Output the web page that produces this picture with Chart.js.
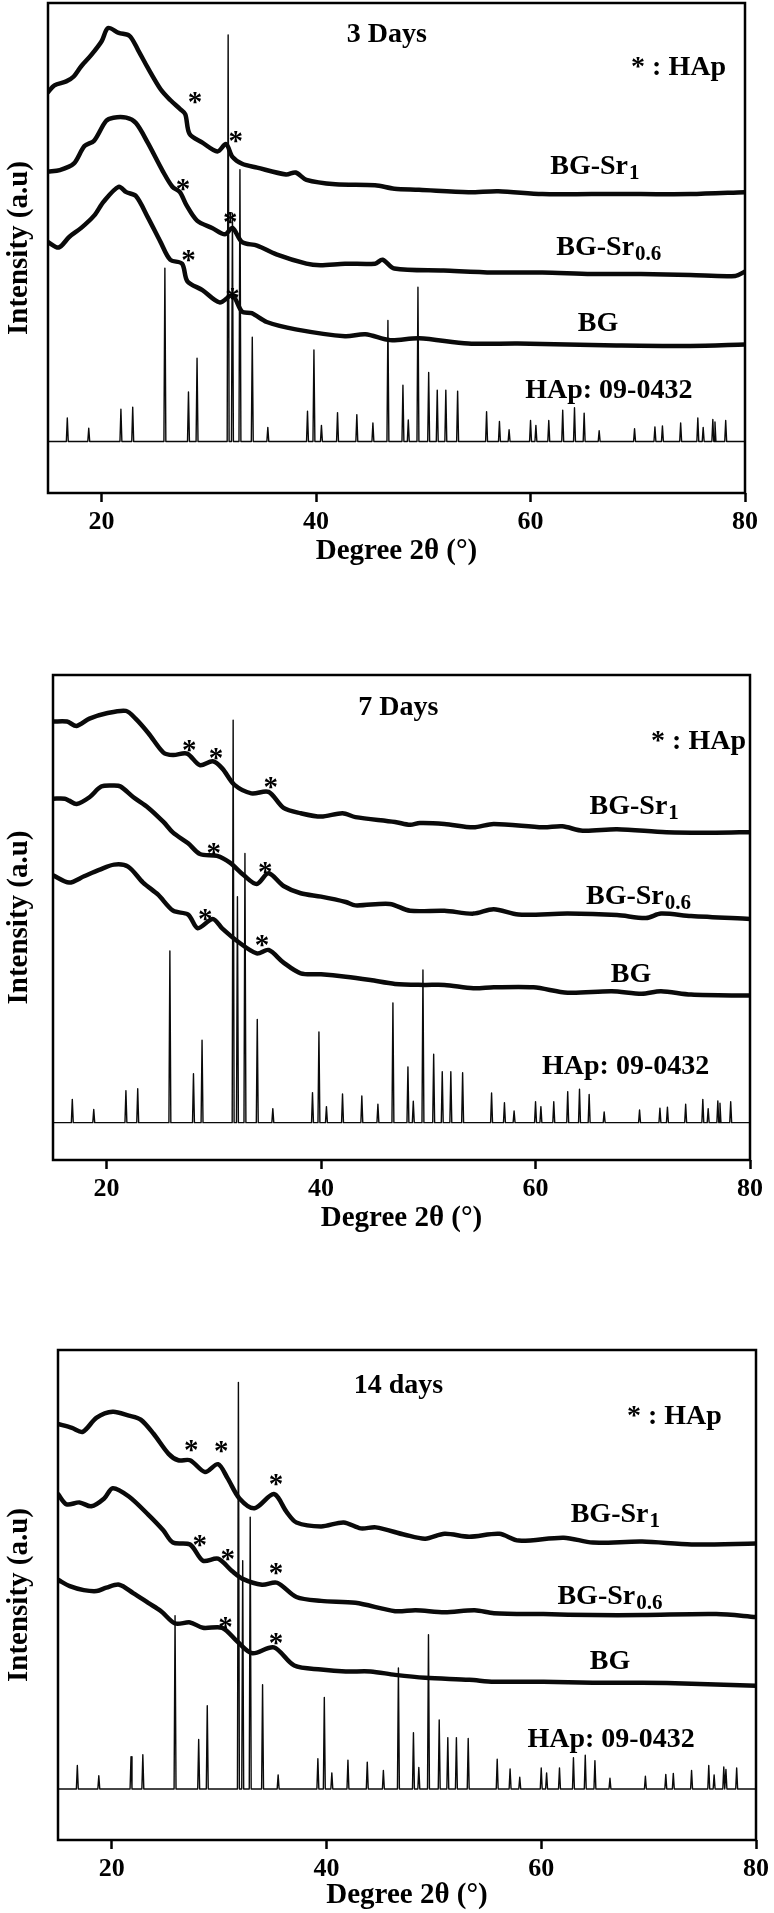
<!DOCTYPE html>
<html>
<head>
<meta charset="utf-8">
<title>XRD patterns after immersion</title>
<script src="https://cdn.jsdelivr.net/npm/chart.js@4.4.1/dist/chart.umd.min.js"></script>
<style>
  html, body { margin: 0; padding: 0; background: #fff; }
  #page { position: relative; width: 774px; height: 1913px; overflow: hidden; }
  #page canvas { position: absolute; left: 0; }
</style>
</head>
<body>
<div id="page">
  <canvas id="day3" width="774" height="569" style="top:0px"></canvas>
  <canvas id="day7" width="774" height="636" style="top:600px"></canvas>
  <canvas id="day14" width="774" height="663" style="top:1250px"></canvas>
</div>
<script>
// x axis ticks
const xTicks = [20, 40, 60, 80];

// sample labels (main text + subscript)
const labelMain = ['BG-Sr', 'BG-Sr', 'BG', 'HAp: 09-0432'];
const labelSub = ['1', '0.6', '', ''];

// HAp reference card 09-0432: peak positions (2θ) and heights above baseline
const hapPeaks = [16.8, 18.8, 21.8, 22.9, 25.9, 28.1, 28.9, 31.8, 32.2, 32.9, 34.05, 35.5,
  39.2, 39.8, 40.5, 42.0, 43.8, 45.3, 46.7, 48.1, 48.6, 49.5, 50.5, 51.3, 52.1, 53.2,
  55.9, 57.1, 58.0, 60.0, 60.5, 61.7, 63.0, 64.1, 65.0, 66.4, 69.7, 71.6, 72.3, 74.0,
  75.6, 76.1, 77.0, 77.2, 78.2];
const hapHeights = [4.8, 2.7, 6.6, 7.0, 35.4, 10.1, 17.0, 83.0, 46.6, 55.5, 21.3, 2.9,
  6.2, 18.7, 3.3, 5.9, 5.5, 3.8, 24.7, 11.5, 4.4, 31.5, 14.1, 10.5, 10.5, 10.3,
  6.1, 4.1, 2.4, 4.3, 3.3, 4.3, 6.4, 6.9, 5.8, 2.2, 2.6, 3.0, 3.2, 3.8,
  4.8, 2.9, 4.5, 4.0, 4.3];
const hapBaseline = [10.5, 7.7, 10.4];   // 3, 7, 14 days

// 3 days (intensity in % of the plot height)
const d3_sr1 = [[15,81.8],[15.6,83.2],[16.7,84.0],[17.4,85.0],[18.1,87.1],[19.0,89.3],[20.0,92.2],
  [20.6,94.9],[21.6,93.9],[22.6,93.3],[23.4,90.4],[24.3,86.8],[25.5,82.4],[26.4,80.2],[27.3,78.4],
  [27.8,77.3],[28.2,73.3],[29.4,71.5],[30.8,69.7],[31.6,71.2],[32.2,68.6],[33.1,67.2],[34.5,66.4],
  [37.2,65.0],[38.1,65.4],[39.1,63.9],[41.8,63.0],[45.5,62.8],[47.3,62.1],[49.6,61.9],[54.2,61.4],
  [57.0,61.6],[61.1,61.0],[65.7,61.0],[70.3,61.0],[74.9,61.0],[80,61.4]];
const d3_sr06 = [[15,65.6],[16.1,65.9],[17.4,67.2],[18.4,70.8],[19.3,71.9],[20.4,75.9],[21.1,76.6],
  [22.3,76.6],[23.2,75.5],[24.3,71.5],[25.7,65.7],[26.6,62.5],[27.3,61.4],[27.9,58.8],[28.9,55.6],
  [30.3,54.1],[31.5,52.8],[32.2,54.1],[33.1,51.2],[34.5,50.5],[36.3,48.7],[39.1,46.8],[40.4,46.5],
  [42.7,46.8],[45.5,46.8],[46.2,47.6],[47.3,45.8],[51.9,45.4],[56.5,45.0],[61.1,45.0],[65.7,44.7],
  [70.3,44.7],[74.9,44.5],[79.1,44.3],[80,45.2]];
const d3_bg = [[15,51.2],[16.0,50.1],[17.0,52.3],[18.1,54.1],[19.3,56.6],[20.2,59.5],[21.6,62.5],
  [22.3,61.4],[23.2,60.6],[24.3,56.3],[25.5,51.2],[26.4,47.6],[27.5,46.8],[28.0,43.2],[29.4,41.4],
  [31.0,38.9],[32.2,40.3],[33.1,37.0],[34.0,36.7],[35.4,34.9],[38.1,33.4],[42.7,32.0],[44.6,32.4],
  [46.9,31.2],[49.6,31.6],[54.2,30.5],[58.8,30.5],[63.4,30.3],[68.0,30.1],[74.9,30.0],[80,30.3]];
const d3_stars = [[28.7,81.0],[32.5,73.1],[27.6,63.2],[32.0,56.6],[28.1,48.7],[32.2,41.0]];

// 7 days
const d7_sr1 = [[15,90.4],[16.3,90.4],[17.2,89.5],[18.4,91.0],[20.0,92.1],[21.8,92.6],[22.7,91.0],
  [23.9,88.0],[25.3,84.0],[26.2,83.5],[27.5,83.8],[28.7,81.4],[29.9,82.2],[30.8,80.7],[31.9,77.4],
  [33.5,75.6],[35.1,75.9],[36.5,72.6],[38.1,71.5],[40.0,70.8],[42.0,71.5],[43.2,70.7],[46.9,69.7],
  [48.3,69.1],[49.2,69.5],[51.5,69.3],[54.2,68.6],[56.1,69.3],[60.7,68.6],[62.5,68.8],[64.4,67.9],
  [67.6,68.2],[72.2,67.6],[76.8,67.5],[80,67.6]];
const d7_sr06 = [[15,74.5],[16.1,74.5],[16.5,74.1],[17.2,73.4],[18.4,74.8],[19.5,77.0],[20.7,77.2],
  [21.3,77.0],[22.5,74.8],[23.9,72.6],[25.3,69.7],[26.2,67.5],[27.6,65.3],[28.7,63.1],[30.3,62.7],
  [31.5,61.3],[32.8,58.7],[34.0,56.9],[35.1,59.1],[36.5,56.5],[38.1,55.0],[40.0,54.3],[42.3,53.2],
  [43.2,52.5],[46.4,52.8],[48.3,51.4],[51.5,51.4],[54.2,50.8],[56.1,51.7],[58.4,50.6],[63.0,50.8],
  [67.6,50.5],[70.3,49.9],[71.7,50.8],[74.5,50.3],[80,49.7]];
const d7_bg = [[15,58.7],[16.5,57.2],[17.9,58.5],[19.3,59.8],[20.7,60.9],[22.0,60.5],[23.4,57.2],
  [24.8,54.7],[26.2,51.4],[27.6,50.6],[28.5,47.8],[29.9,49.7],[30.8,47.7],[32.2,45.1],[34.0,42.6],
  [35.1,43.3],[36.5,40.7],[38.1,38.5],[40.0,38.3],[42.3,37.8],[44.6,37.1],[46.9,36.3],[49.6,36.1],
  [51.5,36.1],[54.2,35.4],[56.1,35.6],[59.8,35.6],[63.0,34.5],[67.1,34.8],[69.9,34.3],[71.7,34.8],
  [74.5,34.1],[80,33.9]];
const d7_stars = [[27.7,85.8],[30.2,84.2],[35.3,78.1],[30.0,64.6],[34.8,60.7],[29.2,51.0],[34.5,45.5]];

// 14 days
const d14_sr1 = [[15,84.9],[16.3,84.1],[17.3,83.3],[18.6,86.2],[20.1,87.4],[21.6,86.6],[22.7,85.8],
  [23.9,82.9],[25.3,78.8],[26.2,77.5],[27.3,77.5],[28.7,75.1],[29.9,76.7],[30.8,73.8],[31.9,69.7],
  [33.3,67.7],[35.1,70.6],[36.3,66.9],[37.2,64.8],[39.5,64.0],[41.6,64.8],[43.2,63.6],[44.6,63.8],
  [47.3,62.3],[49.2,61.5],[51.0,62.5],[53.3,61.9],[56.1,62.5],[57.9,61.1],[62.1,61.7],[64.8,60.7],
  [69.4,60.9],[74.0,60.3],[80,60.5]];
const d14_sr06 = [[15,70.6],[15.8,68.5],[17.0,68.9],[18.1,68.1],[19.3,69.7],[20.1,71.8],[21.6,70.1],
  [23.4,66.4],[24.8,63.2],[25.7,60.7],[27.3,60.3],[28.5,57.0],[29.9,57.4],[31.2,54.9],[32.2,53.3],
  [34.0,52.1],[35.4,52.5],[37.2,49.6],[39.5,48.8],[42.7,48.4],[46.4,46.7],[48.3,46.9],[51.0,46.5],
  [53.8,46.9],[55.6,46.3],[60.2,46.1],[64.8,45.9],[69.4,45.9],[76.3,46.1],[80,45.5]];
const d14_bg = [[15,53.1],[16.1,51.8],[17.4,51.0],[18.6,50.8],[19.5,51.5],[20.7,52.1],[22.0,50.4],
  [23.4,48.4],[24.6,46.7],[25.9,44.2],[27.3,44.4],[28.5,43.3],[30.3,43.3],[31.7,40.5],[33.1,38.1],
  [35.1,39.3],[37.0,35.6],[39.5,34.8],[41.8,34.4],[44.1,34.4],[46.4,33.7],[49.2,33.1],[53.3,32.7],
  [55.6,32.3],[60.2,32.3],[64.8,32.1],[69.4,32.1],[74.0,31.9],[80,31.5]];
const d14_stars = [[27.4,80.8],[30.2,80.6],[35.3,73.8],[28.2,61.5],[30.8,58.6],[35.3,55.8],[30.6,44.7],[35.3,41.4]];

const FONT = 'Liberation Serif';
Chart.defaults.font.family = FONT;
Chart.defaults.font.weight = 'bold';
Chart.defaults.color = '#000';

function toXY(arr) {
  return arr.map(p => ({ x: p[0], y: p[1] }));
}

// stick pattern of the reference card drawn as one line
function hapLine(base) {
  const pts = [{ x: 15, y: base }];
  hapPeaks.forEach((p, i) => {
    pts.push({ x: p - 0.09, y: base });
    pts.push({ x: p, y: base + hapHeights[i] });
    pts.push({ x: p + 0.09, y: base });
  });
  pts.push({ x: 80, y: base });
  return pts;
}

// frame + texts drawn inside the plot
const panelText = {
  id: 'panelText',
  afterDatasetsDraw(chart, args, opts) {
    const { ctx, chartArea: a, scales: { x, y } } = chart;
    ctx.save();
    ctx.strokeStyle = '#000';
    ctx.lineWidth = 2.5;
    ctx.strokeRect(a.left, a.top, a.right - a.left, a.bottom - a.top);
    ctx.fillStyle = '#000';
    ctx.textBaseline = 'middle';

    const big = 'bold 28px ' + FONT;
    const small = 'bold 21px ' + FONT;

    ctx.textAlign = 'center';
    ctx.font = big;
    ctx.fillText(opts.title[0], x.getPixelForValue(opts.title[1]), y.getPixelForValue(opts.title[2]));
    ctx.fillText('* : HAp', x.getPixelForValue(opts.key[0]), y.getPixelForValue(opts.key[1]));

    // sample labels with subscripts
    opts.labels.forEach((pos, i) => {
      ctx.font = big;
      const w1 = ctx.measureText(labelMain[i]).width;
      ctx.font = small;
      const w2 = labelSub[i] ? ctx.measureText(labelSub[i]).width + 1 : 0;
      const cx = x.getPixelForValue(pos[0]);
      const cy = y.getPixelForValue(pos[1]);
      const left = cx - (w1 + w2) / 2;
      ctx.textAlign = 'left';
      ctx.font = big;
      ctx.fillText(labelMain[i], left, cy);
      if (labelSub[i]) {
        ctx.font = small;
        ctx.fillText(labelSub[i], left + w1 + 1, cy + 7);
      }
    });

    // HAp markers
    ctx.textAlign = 'center';
    ctx.textBaseline = 'alphabetic';
    ctx.font = 'bold 29px ' + FONT;
    opts.stars.forEach(s => {
      ctx.fillText('*', x.getPixelForValue(s[0]), y.getPixelForValue(s[1]) + 15);
    });
    ctx.restore();
  }
};

function makePanel(id, p) {
  const canvas = document.getElementById(id);
  const H = canvas.height;
  const axisH = H - p.bottom;
  new Chart(canvas, {
    type: 'line',
    data: {
      datasets: [
        { label: 'HAp: 09-0432', data: hapLine(p.base), borderWidth: 1.4, tension: 0 },
        { label: 'BG', data: toXY(p.bg), borderWidth: 4.5, tension: 0.3 },
        { label: 'BG-Sr0.6', data: toXY(p.sr06), borderWidth: 4.5, tension: 0.3 },
        { label: 'BG-Sr1', data: toXY(p.sr1), borderWidth: 4.5, tension: 0.3 }
      ]
    },
    options: {
      responsive: false,
      animation: false,
      events: [],
      elements: {
        line: { borderColor: '#0a0a0a', borderJoinStyle: 'round', borderCapStyle: 'round' },
        point: { radius: 0 }
      },
      layout: { padding: { left: 0, top: p.top, right: 774 - p.right, bottom: 0 } },
      scales: {
        x: {
          type: 'linear',
          min: 15,
          max: 80,
          afterFit(scale) { scale.height = axisH; },
          afterBuildTicks(scale) { scale.ticks = xTicks.map(v => ({ value: v })); },
          border: { display: false },
          grid: { drawOnChartArea: false, drawTicks: true, tickLength: 9, tickWidth: 2.5, tickColor: '#000' },
          ticks: { font: { size: 26, weight: 'bold' }, color: '#000', padding: 5, maxRotation: 0 },
          title: {
            display: true,
            text: 'Degree 2θ (°)',
            font: { size: 29, weight: 'bold' },
            color: '#000',
            padding: { top: 0, bottom: 0 }
          }
        },
        y: {
          min: 0,
          max: 100,
          afterFit(scale) { scale.width = p.left; },
          border: { display: false },
          grid: { display: false },
          ticks: { display: false },
          title: {
            display: true,
            text: 'Intensity (a.u)',
            font: { size: 29, weight: 'bold' },
            color: '#000',
            padding: { top: 2, bottom: 0 }
          }
        }
      },
      plugins: {
        legend: { display: false },
        tooltip: { enabled: false },
        panelText: {
          title: p.title,
          key: p.key,
          labels: p.labels,
          stars: p.stars
        }
      }
    },
    plugins: [panelText]
  });
}

makePanel('day3', {
  left: 48, right: 745, top: 3, bottom: 493, base: hapBaseline[0],
  sr1: d3_sr1, sr06: d3_sr06, bg: d3_bg, stars: d3_stars,
  title: ['3 Days', 46.6, 93.5], key: [73.8, 86.8],
  labels: [[66.0, 66.6], [67.3, 50.1], [66.3, 34.5], [67.3, 20.9]]
});

makePanel('day7', {
  left: 53, right: 750, top: 75, bottom: 560, base: hapBaseline[1],
  sr1: d7_sr1, sr06: d7_sr06, bg: d7_bg, stars: d7_stars,
  title: ['7 Days', 47.2, 93.2], key: [75.2, 86.2],
  labels: [[69.2, 72.8], [69.6, 54.3], [68.9, 38.2], [68.4, 19.2]]
});

makePanel('day14', {
  left: 58, right: 765, top: 100, bottom: 590, base: hapBaseline[2],
  sr1: d14_sr1, sr06: d14_sr06, bg: d14_bg, stars: d14_stars,
  title: ['14 days', 46.7, 92.8], key: [72.4, 86.3],
  labels: [[66.9, 66.4], [66.4, 49.6], [66.4, 36.4], [66.5, 20.4]]
});
</script>
</body>
</html>
